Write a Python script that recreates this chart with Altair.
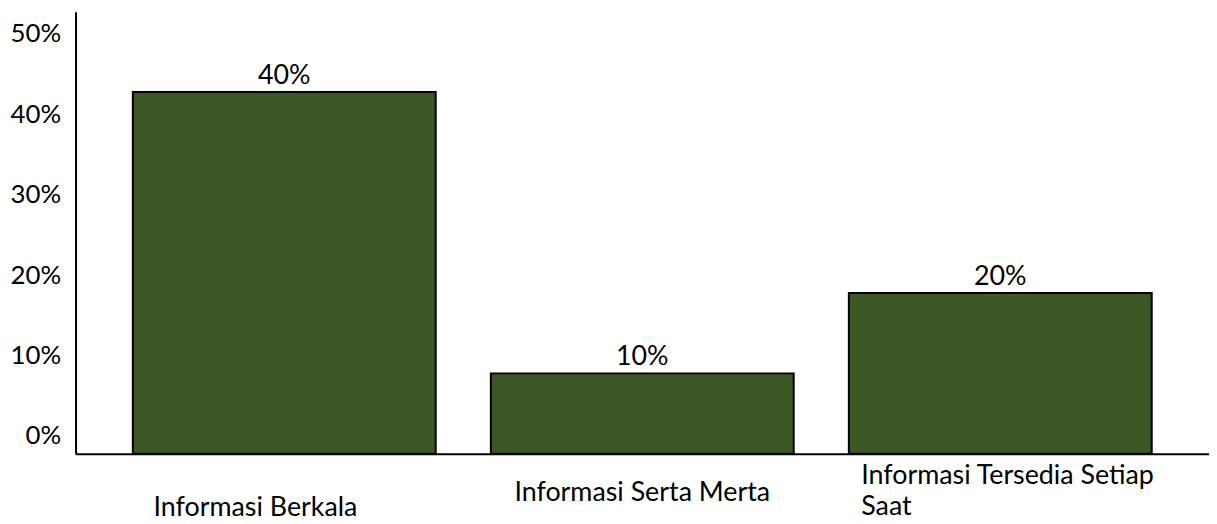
import altair as alt
import pandas as pd

categories = ["Informasi Berkala", "Informasi Serta Merta", "Informasi Tersedia Setiap Saat"]
display_labels = ["Informasi Berkala", "Informasi Serta Merta", "Informasi Tersedia Setiap\nSaat"]
values = [0.45, 0.10, 0.20]
value_labels = ["40%", "10%", "20%"]
y_ticks = [0, 0.1, 0.2, 0.3, 0.4, 0.5]

df = pd.DataFrame({"cat": categories, "disp": display_labels, "val": values, "lab": value_labels})

W, H = 1141, 445
FONT = "Lato"
FS = 26
FS_CAT = 27
BAR = "#3A5724"

xenc = alt.X(
    "cat:N", sort=categories,
    scale=alt.Scale(paddingInner=0.154, paddingOuter=0.16, align=0.5),
    axis=alt.Axis(labels=False, ticks=False, title=None, grid=False,
                  domainColor="black", domainWidth=2),
)
yenc = alt.Y(
    "val:Q",
    scale=alt.Scale(domain=[0, 0.55], nice=False, zero=True),
    axis=alt.Axis(values=y_ticks, format=".0%", title=None, ticks=False, grid=False,
                  labelOffset=-18, labelPadding=15, labelFont=FONT, labelFontSize=FS,
                  labelColor="black", domainColor="black", domainWidth=2),
)

base = alt.Chart(df)
bars = base.mark_bar(color=BAR, stroke="black", strokeWidth=2).encode(x=xenc, y=yenc)
vals = base.mark_text(baseline="alphabetic", dy=-8, font=FONT, fontSize=FS_CAT, color="black").encode(
    x=alt.X("cat:N", sort=categories), y="val:Q", text="lab:N")

label_style = {
    categories[0]: dict(align="center", dx=-29, dy=63),
    categories[1]: dict(align="center", dx=0, dy=48),
    categories[2]: dict(align="left", dx=-140, dy=30),
}
label_layers = []
for c in categories:
    st = label_style[c]
    label_layers.append(
        base.transform_filter(alt.datum.cat == c).mark_text(
            baseline="alphabetic", font=FONT, fontSize=FS_CAT, color="black",
            lineBreak="\n", lineHeight=32, **st
        ).encode(x=alt.X("cat:N", sort=categories), y=alt.value(H), text="disp:N")
    )

chart = alt.layer(bars, vals, *label_layers).properties(
    width=W, height=H,
    autosize=alt.AutoSizeParams(type="none"),
    padding={"left": 68, "top": 2, "right": 0, "bottom": 67},
).configure(background="white").configure_view(stroke=None)

chart.save("out.html", embed_options={"renderer": "svg", "actions": False})
